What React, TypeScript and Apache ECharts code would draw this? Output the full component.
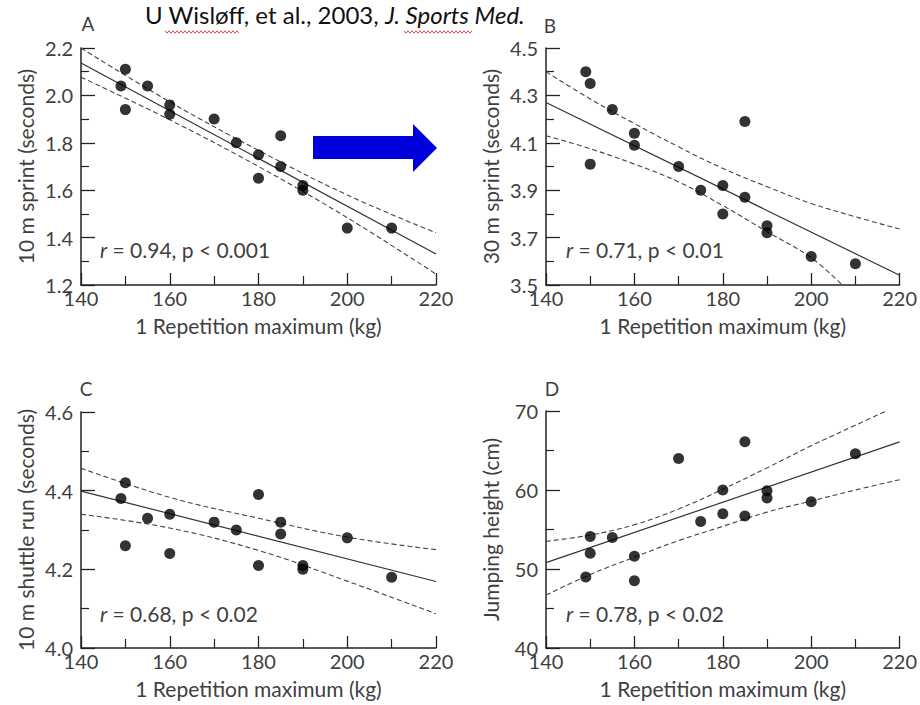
import React, { useEffect, useRef } from "react";
import * as echarts from "echarts";

// ---- data ----
const repMax = [149, 150, 150, 155, 160, 160, 170, 175, 180, 180, 185, 185, 190, 190, 200, 210];
const sprint10 = [2.04, 2.11, 1.94, 2.04, 1.96, 1.92, 1.9, 1.8, 1.75, 1.65, 1.83, 1.7, 1.62, 1.6, 1.44, 1.44];
const sprint30 = [4.4, 4.35, 4.01, 4.24, 4.14, 4.09, 4.0, 3.9, 3.92, 3.8, 4.19, 3.87, 3.75, 3.72, 3.62, 3.59];
const shuttle10 = [4.38, 4.42, 4.26, 4.33, 4.34, 4.24, 4.32, 4.3, 4.39, 4.21, 4.32, 4.29, 4.21, 4.2, 4.28, 4.18];
const jumpHeight = [49.0, 52.0, 54.1, 54.0, 51.6, 48.5, 64.0, 56.0, 60.0, 57.0, 66.1, 56.7, 59.9, 59.0, 58.5, 64.6];

// regression lines (end points)
const fitX = [140, 220];
const fitA = [2.137, 1.331];
const fitB = [4.27, 3.541];
const fitC = [4.399, 4.169];
const fitD = [50.8, 66.1];

// confidence bands
const bandXA = [140, 160, 180, 200, 220];
const upperA = [2.2, 1.973, 1.768, 1.58, 1.42];
const lowerA = [2.077, 1.897, 1.7, 1.484, 1.246];

const bandXBU = [140, 150, 160, 170, 180, 190, 200, 210, 220];
const upperB = [4.4, 4.285, 4.181, 4.083, 3.992, 3.915, 3.844, 3.788, 3.736];
const bandXBL = [140, 150, 160, 170, 180, 190, 200, 207];
const lowerB = [4.13, 4.075, 4.01, 3.935, 3.835, 3.725, 3.615, 3.5];

const bandXC = [140, 160, 180, 200, 220];
const upperC = [4.457, 4.383, 4.33, 4.282, 4.25];
const lowerC = [4.34, 4.305, 4.248, 4.17, 4.087];

const bandXDU = [140, 150, 160, 170, 180, 190, 200, 210, 217];
const upperD = [53.5, 54.3, 55.6, 57.6, 60.1, 62.8, 65.6, 68.2, 70.0];
const bandXDL = [140, 150, 160, 170, 180, 190, 200, 210, 220];
const lowerD = [46.7, 49.3, 51.5, 53.6, 55.4, 57.2, 58.6, 60.0, 61.3];

const xName = "1 Repetition maximum (kg)";
const yNames = ["10 m sprint (seconds)", "30 m sprint (seconds)", "10 m shuttle run (seconds)", "Jumping height (cm)"];
const statTexts = ["0.94, p < 0.001", "0.71, p < 0.01", "0.68, p < 0.02", "0.78, p < 0.02"];
const panelLetters = ["A", "B", "C", "D"];

const FONT = "Lato, 'Noto Sans', sans-serif";
const INK = "#222";
const LABEL = "#3f3f3f";

const grids = [
  { left: 81, top: 48, width: 355, height: 237 },
  { left: 546, top: 48, width: 355, height: 237 },
  { left: 81, top: 412, width: 355, height: 236 },
  { left: 546, top: 411, width: 355, height: 237 },
];

function pairs(xs: number[], ys: number[]) {
  return xs.map((x, i) => [x, ys[i]]);
}

function xAxis(gridIndex: number) {
  return {
    type: "value",
    gridIndex,
    min: 140,
    max: 220,
    interval: 20,
    name: xName,
    nameLocation: "middle",
    nameGap: 30,
    nameTextStyle: { fontFamily: FONT, fontSize: 21, color: LABEL },
    axisLine: { show: true, lineStyle: { color: INK, width: 1.5 } },
    axisTick: { show: true, inside: true, length: 12, lineStyle: { color: INK, width: 1.3 } },
    minorTick: { show: true, splitNumber: 2, length: 9, lineStyle: { color: INK, width: 1.2 } },
    axisLabel: { margin: 3, fontFamily: FONT, fontSize: 20, color: LABEL },
    splitLine: { show: false },
  };
}

function yAxis(gridIndex: number, min: number, max: number, interval: number, decimals: number) {
  return {
    type: "value",
    gridIndex,
    min,
    max,
    interval,
    name: yNames[gridIndex],
    nameLocation: "middle",
    nameGap: 45,
    nameTextStyle: { fontFamily: FONT, fontSize: 21, color: LABEL },
    axisLine: { show: true, lineStyle: { color: INK, width: 1.5 } },
    axisTick: { show: true, inside: true, length: 14, lineStyle: { color: INK, width: 1.3 } },
    minorTick: { show: true, splitNumber: 2, length: 8, lineStyle: { color: INK, width: 1.2 } },
    axisLabel: {
      margin: 8,
      fontFamily: FONT,
      fontSize: 20,
      color: LABEL,
      formatter: (v: number) => v.toFixed(decimals),
    },
    splitLine: { show: false },
  };
}

function panelSeries(i: number, ys: number[], fit: number[], ux: number[], up: number[], lx: number[], lo: number[]) {
  const dashed = {
    type: "line",
    xAxisIndex: i,
    yAxisIndex: i,
    symbol: "none",
    smooth: 0.4,
    lineStyle: { color: "#444", width: 1.1, type: [5, 3] },
    z: 2,
  };
  return [
    { ...dashed, data: pairs(ux, up) },
    { ...dashed, data: pairs(lx, lo) },
    {
      type: "line",
      xAxisIndex: i,
      yAxisIndex: i,
      symbol: "none",
      data: pairs(fitX, fit),
      lineStyle: { color: "#333", width: 1.2 },
      z: 3,
    },
    {
      type: "scatter",
      xAxisIndex: i,
      yAxisIndex: i,
      symbolSize: 11,
      itemStyle: { color: "#000" },
      data: pairs(repMax, ys),
      z: 4,
    },
  ];
}

function zigzag(x0: number, x1: number, y: number) {
  const pts: number[][] = [];
  let k = 0;
  for (let x = x0; x <= x1; x += 2) {
    pts.push([x, y + (k % 2 === 0 ? -1.2 : 1.2)]);
    k++;
  }
  return pts;
}

export default function App() {
  const ref = useRef<HTMLDivElement>(null);
  useEffect(() => {
    if (!ref.current) return;
    const chart = echarts.init(ref.current, null, { renderer: "svg" });
    const statPos = [
      [100, 249],
      [566, 249],
      [100, 613],
      [566, 613],
    ];
    const letterPos = [
      [88, 23],
      [550, 25],
      [86, 388],
      [552, 388],
    ];
    const graphic: any[] = [
      {
        type: "text",
        left: 145,
        top: 2,
        style: {
          text: "{n|U Wisløff, et al., 2003, }{it|J. Sports Med.}",
          rich: {
            n: { fontFamily: FONT, fontSize: 24, fill: "#111" },
            it: { fontFamily: FONT, fontSize: 24, fontStyle: "italic", fill: "#111" },
          },
        },
      },
      {
        type: "polyline",
        shape: { points: zigzag(165, 240, 32) },
        style: { stroke: "#e03030", lineWidth: 0.9, fill: null },
      },
      {
        type: "polyline",
        shape: { points: zigzag(404, 473, 32) },
        style: { stroke: "#e03030", lineWidth: 0.9, fill: null },
      },
      {
        type: "polygon",
        shape: {
          points: [
            [313, 136],
            [413, 136],
            [413, 124],
            [437, 148],
            [413, 172],
            [413, 159],
            [313, 159],
          ],
        },
        style: { fill: "#0000dd" },
      },
    ];
    panelLetters.forEach((l, i) => {
      graphic.push({
        type: "text",
        x: letterPos[i][0],
        y: letterPos[i][1],
        style: {
          text: l,
          fontFamily: FONT,
          fontSize: 19,
          fill: LABEL,
          align: "center",
          verticalAlign: "middle",
        },
      });
    });
    statTexts.forEach((t, i) => {
      graphic.push({
        type: "text",
        x: statPos[i][0],
        y: statPos[i][1],
        style: {
          text: "{i|r} = " + t,
          fontFamily: FONT,
          fontSize: 21,
          fill: LABEL,
          verticalAlign: "middle",
          rich: {
            i: { fontFamily: FONT, fontSize: 21, fontStyle: "italic", fill: LABEL },
          },
        },
      });
    });

    chart.setOption({
      animation: false,
      backgroundColor: "#fff",
      grid: grids,
      xAxis: [xAxis(0), xAxis(1), xAxis(2), xAxis(3)],
      yAxis: [
        yAxis(0, 1.2, 2.2, 0.2, 1),
        yAxis(1, 3.5, 4.5, 0.2, 1),
        yAxis(2, 4.0, 4.6, 0.2, 1),
        yAxis(3, 40, 70, 10, 0),
      ],
      series: [
        ...panelSeries(0, sprint10, fitA, bandXA, upperA, bandXA, lowerA),
        ...panelSeries(1, sprint30, fitB, bandXBU, upperB, bandXBL, lowerB),
        ...panelSeries(2, shuttle10, fitC, bandXC, upperC, bandXC, lowerC),
        ...panelSeries(3, jumpHeight, fitD, bandXDU, upperD, bandXDL, lowerD),
      ],
      graphic,
    });
    return () => chart.dispose();
  }, []);
  return (
    <div
      ref={ref}
      style={{ position: "fixed", left: 0, top: 0, width: 920, height: 705, background: "#fff" }}
    />
  );
}
